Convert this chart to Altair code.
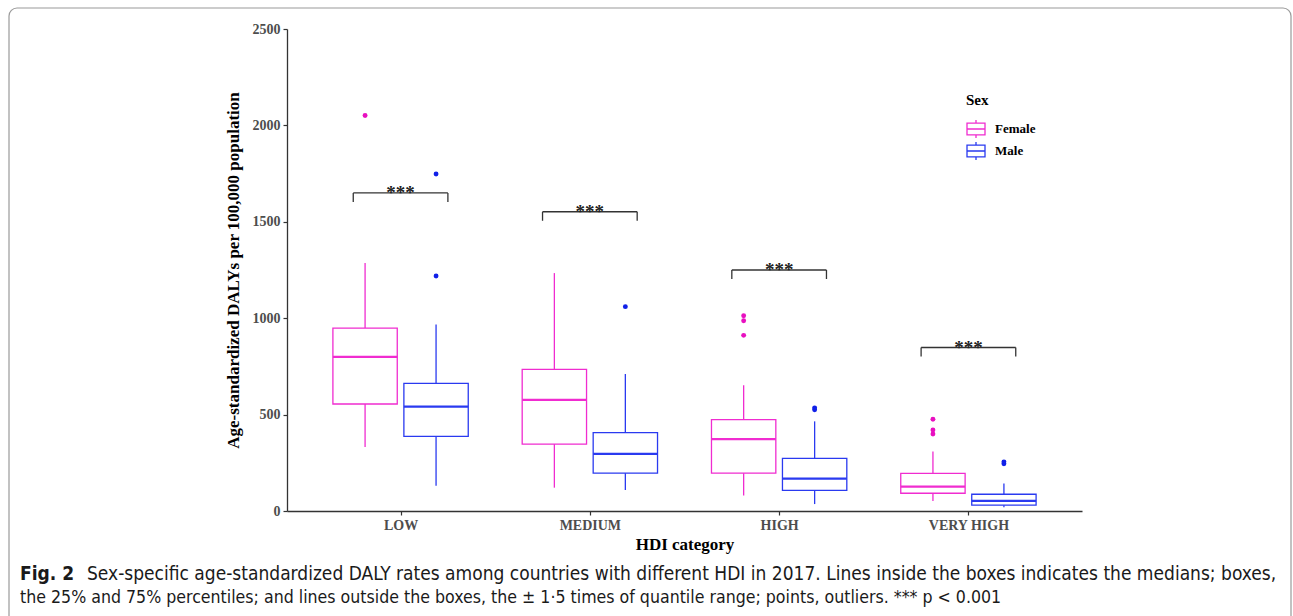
import altair as alt
import pandas as pd

categories = ["LOW", "MEDIUM", "HIGH", "VERY HIGH"]
sexes = ["Female", "Male"]
colors = ["#F02CD0", "#2A3AF0"]
point_colors = ["#E810C0", "#1020E8"]

female_low = [332, 121, 80, 52]
female_q1 = [555, 347, 196, 92]
female_median = [799, 576, 373, 126]
female_q3 = [949, 735, 474, 195]
female_high = [1286, 1234, 652, 308]

male_low = [131, 109, 36, 19]
male_q1 = [387, 196, 107, 30]
male_median = [541, 296, 168, 52]
male_q3 = [662, 406, 273, 87]
male_high = [967, 711, 465, 142]

female_outliers = [[2051], [], [1013, 987, 911], [476, 420, 399]]
male_outliers = [[1748, 1219], [1060], [535, 525], [255, 245]]

bracket_y = [1650, 1552, 1250, 848]
stars = "***"

y_title = "Age-standardized DALYs per 100,000 population"
x_title = "HDI category"
caption_bold = "Fig. 2"
caption_1 = ("Sex-specific age-standardized DALY rates among countries with different HDI in 2017. "
             "Lines inside the boxes indicates the medians; boxes,")
caption_2 = ("the 25% and 75% percentiles; and lines outside the boxes, the \u00b1 1\u00b75 times of "
             "quantile range; points, outliers. *** p < 0.001")

SERIF = "Liberation Serif, Times New Roman, serif"
NARROW = "Liberation Sans Narrow, DejaVu Sans Condensed, Roboto, sans-serif"

# ---- tables built from the arrays ----
stats = {
    "Female": (female_low, female_q1, female_median, female_q3, female_high),
    "Male": (male_low, male_q1, male_median, male_q3, male_high),
}
rows = []
for s in sexes:
    lo, q1, med, q3, hi = stats[s]
    for i, c in enumerate(categories):
        rows.append({"cat": c, "idx": i + 1, "Sex": s, "lo": lo[i], "q1": q1[i],
                     "med": med[i], "q3": q3[i], "hi": hi[i]})
box_df = pd.DataFrame(rows)

out_rows = []
for s, lists in (("Female", female_outliers), ("Male", male_outliers)):
    for i, c in enumerate(categories):
        for v in lists[i]:
            out_rows.append({"cat": c, "idx": i + 1, "Sex": s, "value": v})
out_df = pd.DataFrame(out_rows)

br_df = pd.DataFrame({"cat": categories, "idx": list(range(1, len(categories) + 1)),
                      "by": bracket_y, "label": [stars] * len(categories)})

# ---- scales / axes ----
xscale = alt.Scale(domain=[0.4, 4.6], nice=False, zero=False)
xaxis = alt.Axis(values=[1, 2, 3, 4], grid=False, title=x_title,
                 labelExpr="['LOW','MEDIUM','HIGH','VERY HIGH'][datum.value - 1]",
                 labelPadding=3, titlePadding=4)
yscale = alt.Scale(domain=[0, 2500], nice=False, zero=True)
yaxis = alt.Axis(values=[0, 500, 1000, 1500, 2000, 2500], grid=False, title=y_title,
                 format="d", labelPadding=3, titlePadding=10)

sex_scale = alt.Scale(domain=sexes, range=colors)
stroke_leg = alt.Stroke("Sex:N", scale=sex_scale,
                        legend=alt.Legend(
                            title="Sex", orient="none", legendX=679, legendY=64,
                            symbolType="M-1,-0.65H1V0.65H-1Z M-1,0H1 M0,-0.65V-1 M0,0.65V1",
                            symbolSize=324, symbolStrokeWidth=1.3,
                            symbolFillColor="white",
                            titleFont=SERIF, titleFontSize=15, titleFontWeight="bold",
                            titleColor="black",
                            labelFont=SERIF, labelFontSize=13, labelFontWeight="bold",
                            labelColor="black",
                            titlePadding=11, labelOffset=9, rowPadding=-2, padding=0))
stroke_plain = alt.Stroke("Sex:N", scale=sex_scale, legend=None)


def X(f):
    return alt.X(f, type="quantitative", scale=xscale, axis=xaxis)


def Y(f):
    return alt.Y(f, type="quantitative", scale=yscale, axis=yaxis)


base = (alt.Chart(box_df)
        .transform_calculate(xc="datum.idx + (datum.Sex == 'Female' ? -0.1875 : 0.1875)")
        .transform_calculate(xl="datum.xc - 0.17")
        .transform_calculate(xr="datum.xc + 0.17"))

boxes = base.mark_rect(fill="white", strokeWidth=1.3).encode(
    x=X("xl"), x2="xr", y=Y("q1"), y2="q3", stroke=stroke_leg)
medians = base.mark_rule(strokeWidth=2.2).encode(
    x=X("xl"), x2="xr", y=Y("med"), stroke=stroke_plain)
wh_up = base.mark_rule(strokeWidth=1.3).encode(
    x=X("xc"), y=Y("q3"), y2="hi", stroke=stroke_plain)
wh_dn = base.mark_rule(strokeWidth=1.3).encode(
    x=X("xc"), y=Y("lo"), y2="q1", stroke=stroke_plain)

out_base = alt.Chart(out_df).transform_calculate(
    xc="datum.idx + (datum.Sex == 'Female' ? -0.1875 : 0.1875)")
out_layers = [
    out_base.transform_filter(alt.datum.Sex == s)
    .mark_circle(size=24, opacity=1, strokeWidth=0, color=point_colors[k])
    .encode(x=X("xc"), y=Y("value"))
    for k, s in enumerate(sexes)
]

br_base = (alt.Chart(br_df)
           .transform_calculate(xa="datum.idx - 0.25")
           .transform_calculate(xb="datum.idx + 0.25"))
br_h = br_base.mark_rule(color="#333333", strokeWidth=1.3).encode(
    x=X("xa"), x2="xb", y=Y("by"))
br_l = br_base.mark_rule(color="#333333", strokeWidth=1.3, y2Offset=9).encode(
    x=X("xa"), y=Y("by"), y2="by")
br_r = br_base.mark_rule(color="#333333", strokeWidth=1.3, y2Offset=9).encode(
    x=X("xb"), y=Y("by"), y2="by")
br_t = br_base.mark_text(font=SERIF, fontSize=19, fontWeight="bold", color="#222222",
                         baseline="alphabetic", dy=6).encode(
    x=X("idx"), y=Y("by"), text="label:N")

one = alt.Data(values=[{}])
frame = alt.Chart(one).mark_rect(fill="white", fillOpacity=0, stroke="#9a9a9a",
                                 strokeWidth=1.2, cornerRadius=8).encode(
    x=alt.value(-278), x2=alt.value(1004), y=alt.value(-21), y2=alt.value(640))
cap_b = alt.Chart(one).mark_text(text=caption_bold, align="left", baseline="middle",
                                 font=NARROW, fontSize=19, fontWeight="bold",
                                 color="#1a1a1a").encode(
    x=alt.value(-267), y=alt.value(545))
cap_1 = alt.Chart(one).mark_text(text=caption_1, align="left", baseline="middle",
                                 font=NARROW, fontSize=19, color="#1a1a1a").encode(
    x=alt.value(-200), y=alt.value(545))
cap_2 = alt.Chart(one).mark_text(text=caption_2, align="left", baseline="middle",
                                 font=NARROW, fontSize=17.6, color="#1a1a1a").encode(
    x=alt.value(-267), y=alt.value(569))

chart = alt.layer(
    frame, boxes, wh_up, wh_dn, medians, *out_layers, br_h, br_l, br_r, br_t,
    cap_b, cap_1, cap_2
).properties(
    width=795, height=482,
    autosize=alt.AutoSizeParams(type="none"),
    padding={"left": 287, "top": 29, "right": 211, "bottom": 105},
).configure_view(strokeWidth=0).configure_axis(
    domainColor="#333333", domainWidth=1.3, tickColor="#333333", tickWidth=1.2, tickSize=4,
    labelColor="#4d4d4d", labelFont=SERIF, labelFontSize=14, labelFontWeight="bold",
    titleFont=SERIF, titleFontSize=17, titleFontWeight="bold", titleColor="black",
)

chart.save("out.html", embed_options={"renderer": "svg", "actions": False})
